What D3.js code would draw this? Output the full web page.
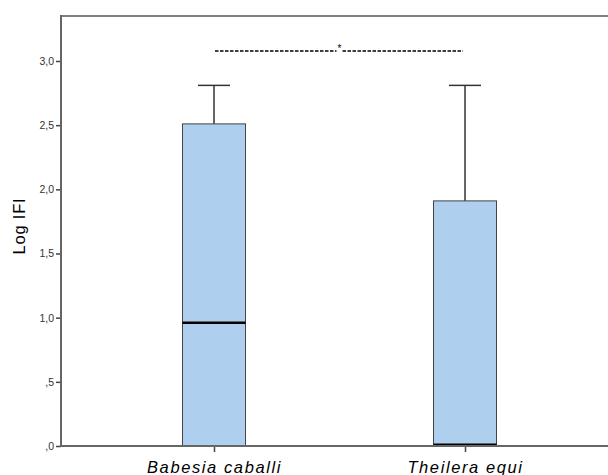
<!DOCTYPE html>
<html><head><meta charset="utf-8">
<script src="https://cdn.jsdelivr.net/npm/d3@7"></script>
<style>body{margin:0;background:#fff}svg{display:block}</style>
</head><body>
<svg id="c" width="608" height="475"></svg>
<script>
const categories = ["Babesia caballi", "Theilera equi"];
const whiskerLow = [0, 0];
const q1 = [0, 0];
const median = [0.96, 0.01];
const q3 = [2.51, 1.91];
const whiskerHigh = [2.81, 2.81];
const yTicks = [0, 0.5, 1.0, 1.5, 2.0, 2.5, 3.0];
const yTickLabels = [",0", ",5", "1,0", "1,5", "2,0", "2,5", "3,0"];
const sigLabel = "*";

(function () {
const svg = d3.select("#c");
const pL = 61, pT = 16, pR = 608, pB = 446;
const y = d3.scaleLinear().domain([0, 3.0]).range([pB, 61]);
const x = d3.scalePoint().domain(categories).range([214, 465]);
const FONT = "Liberation Sans, Arial, sans-serif";

// frame
svg.append("line").attr("x1", pL).attr("x2", pR).attr("y1", pT).attr("y2", pT)
  .attr("stroke", "#808080").attr("stroke-width", 2);

// y axis
const yAxis = d3.axisLeft(y).tickValues(yTicks).tickSize(5).tickPadding(2)
  .tickFormat((d, i) => yTickLabels[i]);
const gy = svg.append("g").attr("transform", `translate(${pL},0)`).call(yAxis);
gy.select(".domain").remove();
gy.selectAll(".tick line").attr("stroke", "#444").attr("stroke-width", 1.5);
gy.selectAll(".tick text").attr("fill", "#333").style("font-family", FONT).style("font-size", "10.5px");
svg.append("line").attr("x1", pL).attr("x2", pL).attr("y1", pT - 1).attr("y2", pB + 1)
  .attr("stroke", "#666").attr("stroke-width", 2);

// boxes
const bw = 63, cap = 16;
categories.forEach((c, i) => {
  const cx = x(c);
  const g = svg.append("g");
  g.append("line").attr("x1", cx).attr("x2", cx).attr("y1", y(q3[i])).attr("y2", y(whiskerHigh[i]))
    .attr("stroke", "#333").attr("stroke-width", 1.5);
  g.append("line").attr("x1", cx - cap).attr("x2", cx + cap).attr("y1", y(whiskerHigh[i])).attr("y2", y(whiskerHigh[i]))
    .attr("stroke", "#333").attr("stroke-width", 1.5);
  g.append("rect").attr("x", cx - bw / 2).attr("width", bw)
    .attr("y", y(q3[i])).attr("height", y(q1[i]) - y(q3[i]))
    .attr("fill", "#aecfed").attr("stroke", "#444").attr("stroke-width", 1);
  g.append("line").attr("x1", cx - bw / 2).attr("x2", cx + bw / 2).attr("y1", y(median[i])).attr("y2", y(median[i]))
    .attr("stroke", "#000").attr("stroke-width", 2.5);
});

// x axis
const xAxis = d3.axisBottom(x).tickSize(6).tickPadding(0);
const gx = svg.append("g").attr("transform", `translate(0,${pB})`).call(xAxis);
gx.select(".domain").remove();
gx.selectAll(".tick line").attr("stroke", "#444").attr("stroke-width", 1.5);
gx.selectAll(".tick text").attr("fill", "#000").attr("dy", null).attr("y", 26.5)
  .style("font-family", FONT).style("font-size", "16.5px").style("font-style", "italic")
  .style("letter-spacing", "1.6px");
svg.append("line").attr("x1", pL).attr("x2", pR).attr("y1", pB).attr("y2", pB)
  .attr("stroke", "#666").attr("stroke-width", 2);

// y label
svg.append("text").attr("transform", "translate(25,226) rotate(-90)").attr("text-anchor", "middle")
  .style("font-family", FONT).style("font-size", "16.5px").style("letter-spacing", "0.8px").attr("fill", "#000")
  .text("Log IFI");

// significance
const sy = 51, sx1 = x(categories[0]), sx2 = x(categories[1]), mid = (sx1 + sx2) / 2;
svg.append("line").attr("x1", sx1 + 1).attr("x2", mid - 3).attr("y1", sy).attr("y2", sy)
  .attr("stroke", "#000").attr("stroke-width", 1.5).attr("stroke-dasharray", "3.5,1.5");
svg.append("line").attr("x1", mid + 3).attr("x2", sx2 - 2).attr("y1", sy).attr("y2", sy)
  .attr("stroke", "#000").attr("stroke-width", 1.5).attr("stroke-dasharray", "3.5,1.5");
svg.append("text").attr("x", mid).attr("y", sy + 1).attr("text-anchor", "middle")
  .style("font-family", FONT).style("font-size", "10px").text(sigLabel);
})();
</script>
</body></html>
